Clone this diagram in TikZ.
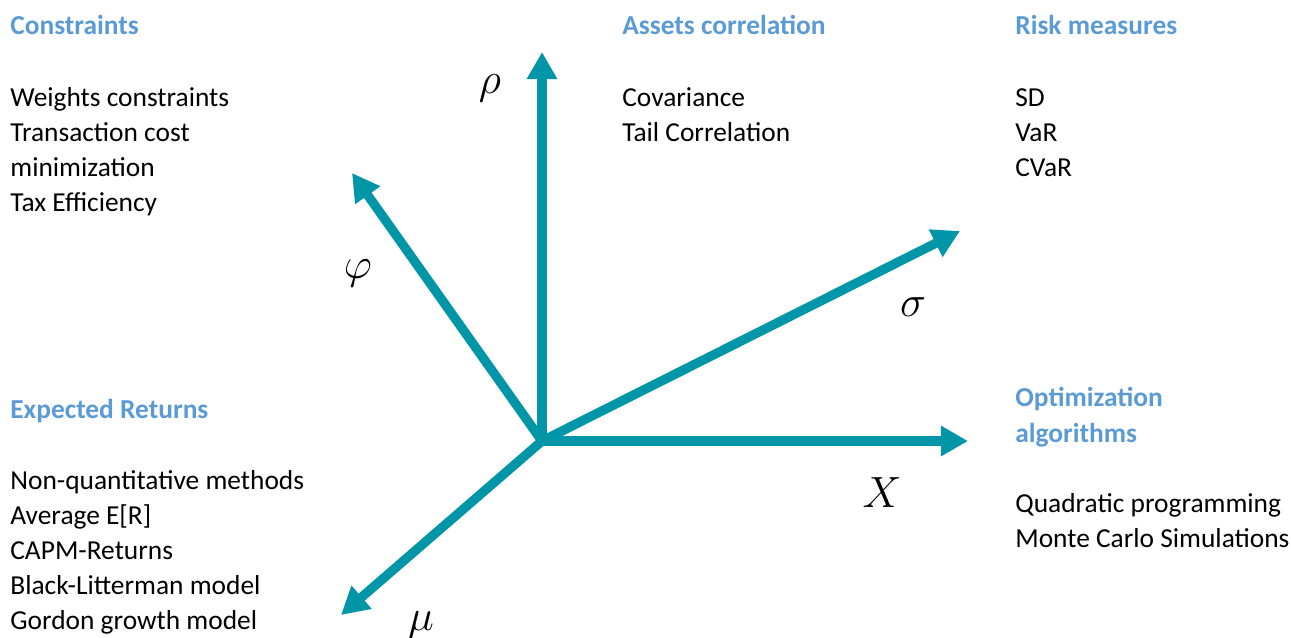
\documentclass[tikz,border=0pt]{standalone}
\usepackage{fontspec}
\setmainfont{Carlito}
\usetikzlibrary{arrows.meta}
\definecolor{axisteal}{RGB}{0,150,168}
\definecolor{headblue}{RGB}{91,155,213}
\tikzset{axis/.style={draw=axisteal,line width=5.3pt,-{Triangle[length=15.5pt,width=16.5pt]}},
  head/.style={anchor=base west,inner sep=0pt,text=headblue,font=\fontsize{15.6}{20.4}\selectfont\bfseries,align=left},
  items/.style={anchor=base west,inner sep=0pt,font=\fontsize{15.6}{19.8}\selectfont,align=left},
  sym/.style={inner sep=0pt,font=\fontsize{25}{28}\selectfont}}

\begin{document}
\begin{tikzpicture}[x=0.02cm,y=-0.02cm]
  \useasboundingbox (0,0) rectangle (1291,637);
  \coordinate (o) at (542,441);
  \coordinate (rhoend) at (542,52);
  \coordinate (phiend) at (352,173);
  \coordinate (sigend) at (960,231);
  \coordinate (xend) at (968,441);
  \coordinate (muend) at (341,615);
  \foreach \e in {rhoend,phiend,sigend,xend,muend} {\draw[axis] (o) -- (\e);}
  \node[sym] (rholab) at (490,88) {$\rho$};
  \node[sym] (philab) at (358,273) {$\varphi$};
  \node[sym] (siglab) at (913,307) {$\sigma$};
  \node[sym] (xlab) at (882,493) {$X$};
  \node[sym] (mulab) at (421,625) {$\mu$};
  \node[head] (conhead) at (10,34) {Constraints};
  \node[items] (conlist) at (10,211) {Weights constraints\\Transaction cost\\minimization\\Tax Efficiency};
  \node[head] (corhead) at (622,34) {Assets correlation};
  \node[items] (corlist) at (622,141) {Covariance\\Tail Correlation};
  \node[head] (riskhead) at (1015,34) {Risk measures};
  \node[items] (risklist) at (1015,176) {SD\\VaR\\CVaR};
  \node[head] (rethead) at (10,418) {Expected Returns};
  \node[items] (retlist) at (10,629) {Non-quantitative methods\\Average E[R]\\CAPM-Returns\\Black-Litterman model\\Gordon growth model};
  \node[head] (opthead) at (1015,442) {Optimization\\algorithms};
  \node[items] (optlist) at (1015,547) {Quadratic programming\\Monte Carlo Simulations};
\end{tikzpicture}
\end{document}
